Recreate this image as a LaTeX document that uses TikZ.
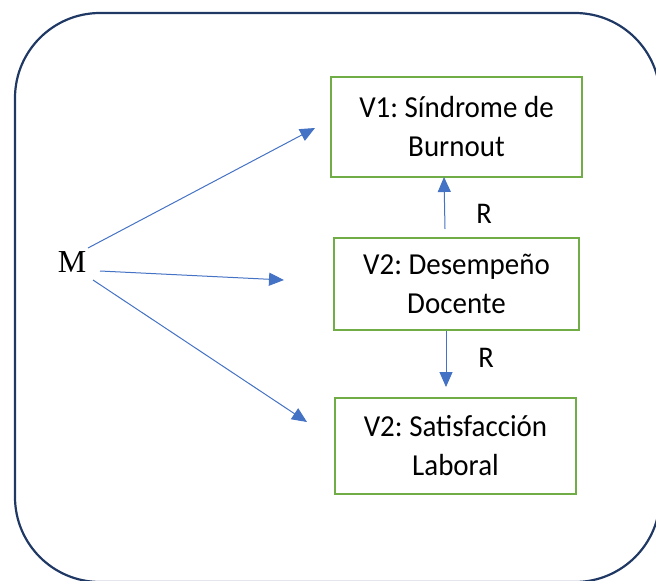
\documentclass[tikz,border=0pt]{standalone}
\usepackage{fontspec}
\setmainfont{Carlito}[FakeStretch=0.95]
\newfontfamily\serifM{Liberation Serif}
\usetikzlibrary{arrows.meta}
\definecolor{navy}{HTML}{1F3864}
\definecolor{boxgreen}{HTML}{70AD47}
\definecolor{arrblue}{HTML}{4472C4}
\frenchspacing
\tikzset{
  varbox/.style={draw=boxgreen, line width=2.2pt, inner sep=0pt, align=center,
    font=\fontsize{30.5}{39}\selectfont},
  conn/.style={draw=arrblue, line width=1pt, -{Triangle[length=15pt,width=13pt]}},
  rlabel/.style={font=\fontsize{30}{34}\selectfont, inner sep=0pt}
}
\begin{document}
\begin{tikzpicture}[x=1pt,y=-1pt]
\useasboundingbox (0,0) rectangle (656,581);
\begin{scope}
\clip (0,0) rectangle (656,581);
\draw[navy, line width=2.2pt, rounded corners=85pt] (15,13) rectangle (660,582);
\end{scope}
\node[varbox, minimum width=251pt, minimum height=100pt] (v1) at (456.5,127) {V1: Síndrome de\\Burnout};
\node[varbox, minimum width=245pt, minimum height=92pt] (v2) at (456.5,284) {V2: Desempeño\\Docente};
\node[varbox, minimum width=241pt, minimum height=96pt] (v3) at (455.5,446) {V2: Satisfacción\\Laboral};
\node[font=\serifM\fontsize{32}{36}\selectfont, inner sep=0pt] (M) at (72,262) {M};
\node[rlabel] (r1) at (484,214) {R};
\node[rlabel] (r2) at (486,358) {R};
\coordinate (m1) at (88,248);
\coordinate (m2) at (100,271);
\coordinate (m3) at (93,280);
\coordinate (t1) at (315,128);
\coordinate (t2) at (284,280);
\coordinate (t3) at (307,422);
\coordinate (s4) at (445,229);
\coordinate (t4) at (444,177);
\coordinate (s5) at (446,331);
\coordinate (t5) at (446,387);
\draw[conn] (m1) -- (t1);
\draw[conn] (m2) -- (t2);
\draw[conn] (m3) -- (t3);
\draw[conn] (s4) -- (t4);
\draw[conn] (s5) -- (t5);
\end{tikzpicture}
\end{document}
